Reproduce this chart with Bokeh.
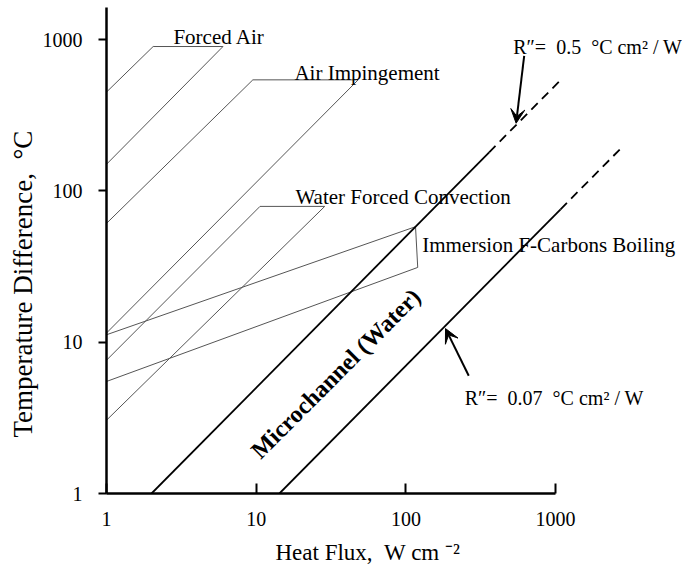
from bokeh.plotting import figure
from bokeh.models import FixedTicker, Arrow, VeeHead, ColumnDataSource, Title
from bokeh.core.properties import value
from bokeh.embed import file_html
from bokeh.resources import INLINE

NB = "\u00a0"

# ---- data (heat flux q in W/cm^2, temperature difference dT in degC) ----
forced_air_q = [1, 2.05, 6.0, 1]
forced_air_dt = [450, 900, 900, 150]
air_imp_q = [1, 9.5, 48, 1]
air_imp_dt = [61, 542, 542, 11.5]
water_fc_q = [1, 10.6, 28.7, 1]
water_fc_dt = [7.6, 79, 79, 3.05]
immersion_q = [1, 116, 120, 1]
immersion_dt = [11.2, 58, 31.2, 5.5]

r05_solid_q = [2, 360]
r05_solid_dt = [1, 180]
r05_dash_q = [360, 1100]
r05_dash_dt = [180, 550]
r007_solid_q = [14.3, 1080]
r007_solid_dt = [1, 75.6]
r007_dash_q = [1080, 2860]
r007_dash_dt = [75.6, 200]

tick_values = [1, 10, 100, 1000]
tick_labels = ["1", "10", "100", "1000"]

region_text = ["Forced Air", "Air Impingement", "Water Forced Convection",
               "Immersion F-Carbons Boiling"]
region_q = [2.8, 18.0, 18.3, 128.5]
region_dt = [1043, 603, 91.4, 44.0]

r_text = ["R\u2033=" + NB + NB + "0.5" + NB + NB + "\u00b0C cm\u00b2 / W",
          "R\u2033=" + NB + NB + "0.07" + NB + NB + "\u00b0C cm\u00b2 / W"]
r_q = [521, 247]
r_dt = [896, 4.27]

micro_text = ["Microchannel (Water)"]
micro_q = [34.0]
micro_dt = [6.2]

arrow_q0 = [617, 263]
arrow_dt0 = [782, 6.0]
arrow_q1 = [545, 184]
arrow_dt1 = [280, 12.3]

x_title = "Heat Flux," + NB + NB + "W cm " + "\u207b\u00b2"
y_title = "Temperature Difference," + NB + NB + "\u00b0C"

FONT = "Liberation Serif"

p = figure(width=682, height=576, x_axis_type="log", y_axis_type="log",
           x_range=(1, 7046), y_range=(1, 1630),
           output_backend="svg", toolbar_location=None,
           min_border_left=106, min_border_right=0, min_border_top=7, min_border_bottom=83)
p.outline_line_color = None
p.grid.visible = False
p.background_fill_color = "white"

# parallelogram regions
p.multi_line(xs=[forced_air_q, air_imp_q, water_fc_q, immersion_q],
             ys=[forced_air_dt, air_imp_dt, water_fc_dt, immersion_dt],
             line_color="#555555", line_width=1)

# constant-resistance lines
p.line(r05_solid_q, r05_solid_dt, line_color="black", line_width=1.8)
p.line(r05_dash_q, r05_dash_dt, line_color="black", line_width=1.8, line_dash="9 6")
p.line(r007_solid_q, r007_solid_dt, line_color="black", line_width=1.8)
p.line(r007_dash_q, r007_dash_dt, line_color="black", line_width=1.8, line_dash="9 6")

# labels
p.text(x=region_q, y=region_dt, text=region_text, text_font=value(FONT),
       text_font_size="21px", text_color="black", text_align="left",
       text_baseline="alphabetic")
p.text(x=r_q, y=r_dt, text=r_text, text_font=value(FONT),
       text_font_size="20px", text_color="black", text_align="left",
       text_baseline="alphabetic")
p.text(x=micro_q, y=micro_dt, text=micro_text, text_font=value(FONT),
       text_font_size="24px", text_font_style="bold", text_color="black",
       text_align="center", text_baseline="alphabetic", angle=45, angle_units="deg")

# arrows
asrc = ColumnDataSource(dict(x0=arrow_q0, y0=arrow_dt0, x1=arrow_q1, y1=arrow_dt1))
p.add_layout(Arrow(x_start="x0", y_start="y0", x_end="x1", y_end="y1", source=asrc,
                   line_color="black", line_width=2,
                   end=VeeHead(size=14, fill_color="black", line_color="black")))

# axes
for ax in (p.xaxis[0], p.yaxis[0]):
    ax.ticker = FixedTicker(ticks=tick_values)
    ax.major_label_overrides = {v: t for v, t in zip(tick_values, tick_labels)}
    ax.axis_line_color = "black"
    ax.axis_line_width = 2.5
    ax.major_tick_line_color = "black"
    ax.major_tick_line_width = 2
    ax.minor_tick_line_color = None
    ax.major_label_text_font = FONT
    ax.major_label_text_font_size = "20px"
    ax.major_label_text_color = "black"

p.xaxis.bounds = (1, 1000)
p.xaxis.major_tick_in = 10
p.xaxis.major_tick_out = 0
p.xaxis.major_label_standoff = 18
p.yaxis.major_tick_in = 0
p.yaxis.major_tick_out = 8
p.yaxis.major_label_standoff = 16

# axis titles
p.add_layout(Title(text=x_title, align="left", offset=169, standoff=19,
                   text_font=FONT, text_font_size="23px", text_font_style="normal",
                   text_color="black"), "below")
p.add_layout(Title(text=y_title, align="left", offset=56, standoff=4,
                   text_font=FONT, text_font_size="27px", text_font_style="normal",
                   text_color="black"), "left")

open("out.html", "w").write(file_html(p, INLINE))
